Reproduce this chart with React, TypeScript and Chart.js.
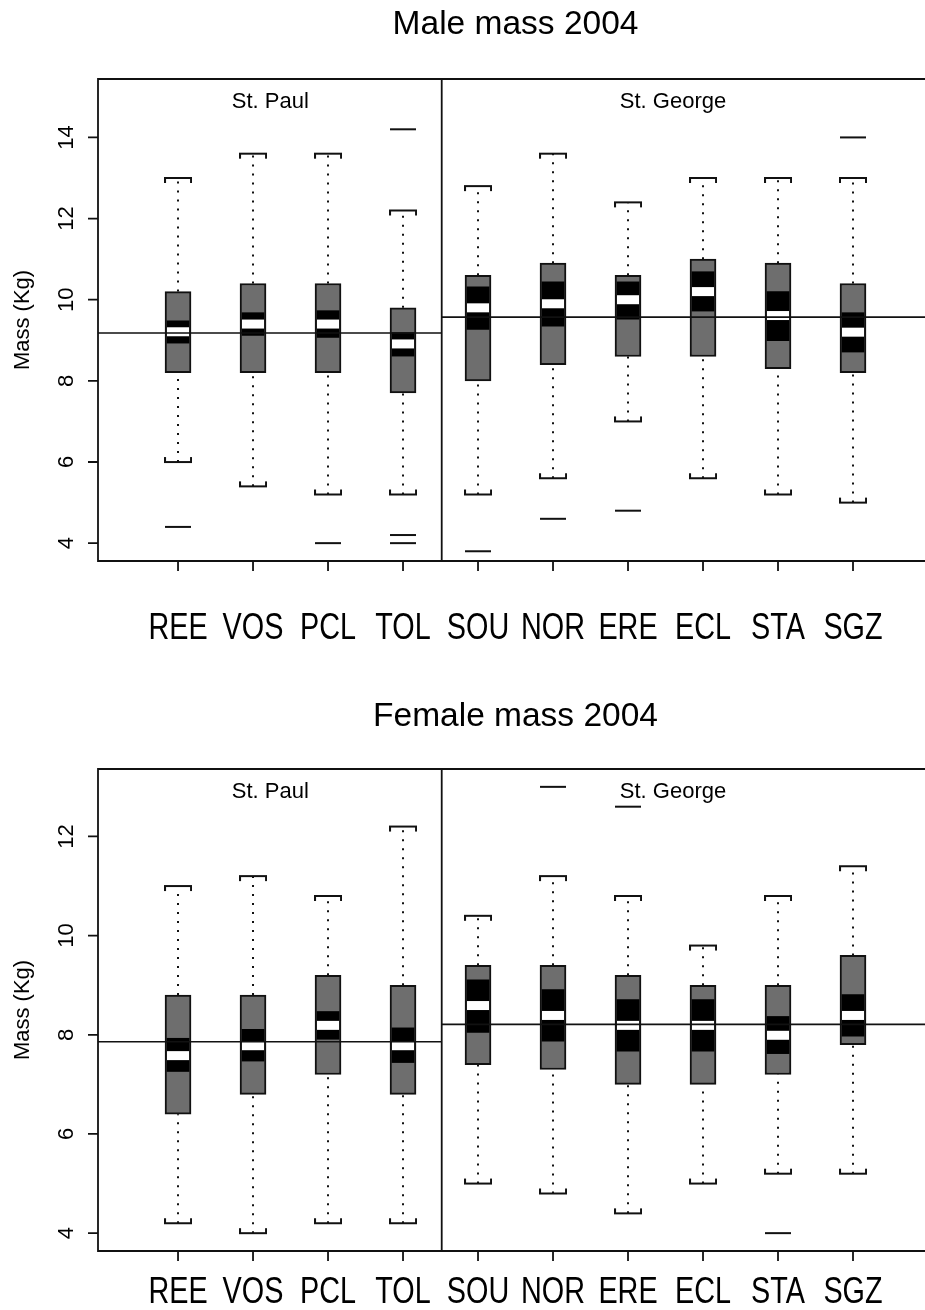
import React, { useEffect, useRef } from "react";
import { Chart, registerables } from "chart.js";

Chart.register(...registerables);

// ---------- data ----------
const SITES = ["REE", "VOS", "PCL", "TOL", "SOU", "NOR", "ERE", "ECL", "STA", "SGZ"];
const ISLANDS = ["St. Paul", "St. George"];
const ISLAND_LABEL_POS = [2.23, 7.6];
const ISLAND_SPLIT = 4.516;
const X_MIN = -0.067;
const X_MAX = 10.96;
const X_FRAME_END = 11.067;

const MALE_TITLE = "Male mass 2004";
const MALE_Y_TICKS = [4, 6, 8, 10, 12, 14];
const MALE_LOW_WHISKER = [6.0, 5.4, 5.2, 5.2, 5.2, 5.6, 7.0, 5.6, 5.2, 5.0];
const MALE_Q1 = [8.2, 8.2, 8.2, 7.7, 8.0, 8.4, 8.6, 8.6, 8.3, 8.2];
const MALE_NOTCH_LO = [8.93, 9.12, 9.07, 8.61, 9.27, 9.35, 9.52, 9.72, 8.99, 8.71];
const MALE_MEDIAN = [9.21, 9.4, 9.4, 8.91, 9.8, 9.9, 10.0, 10.2, 9.61, 9.2];
const MALE_NOTCH_HI = [9.48, 9.68, 9.73, 9.19, 10.32, 10.44, 10.44, 10.69, 10.2, 9.68];
const MALE_Q3 = [10.2, 10.4, 10.4, 9.8, 10.6, 10.9, 10.6, 11.0, 10.9, 10.4];
const MALE_HIGH_WHISKER = [13.0, 13.6, 13.6, 12.2, 12.8, 13.6, 12.4, 13.0, 13.0, 13.0];
const MALE_OUTLIERS = [[4.4], [], [4.0], [14.2, 4.2, 4.0], [3.8], [4.6], [4.8], [], [], [14.0]];
const MALE_ISLAND_MEAN = [9.18, 9.57];

const FEMALE_TITLE = "Female mass 2004";
const FEMALE_Y_TICKS = [4, 6, 8, 10, 12];
const FEMALE_LOW_WHISKER = [4.2, 4.0, 4.2, 4.2, 5.0, 4.8, 4.4, 5.0, 5.2, 5.2];
const FEMALE_Q1 = [6.4, 6.8, 7.2, 6.8, 7.4, 7.3, 7.0, 7.0, 7.2, 7.8];
const FEMALE_NOTCH_LO = [7.26, 7.47, 7.91, 7.44, 8.05, 7.87, 7.67, 7.67, 7.62, 7.97];
const FEMALE_MEDIAN = [7.58, 7.78, 8.19, 7.78, 8.59, 8.39, 8.19, 8.19, 7.99, 8.39];
const FEMALE_NOTCH_HI = [7.93, 8.11, 8.47, 8.14, 9.11, 8.91, 8.71, 8.71, 8.37, 8.81];
const FEMALE_Q3 = [8.8, 8.8, 9.2, 9.0, 9.4, 9.4, 9.2, 9.0, 9.0, 9.6];
const FEMALE_HIGH_WHISKER = [11.0, 11.2, 10.8, 12.2, 10.4, 11.2, 10.8, 9.8, 10.8, 11.4];
const FEMALE_OUTLIERS = [[], [], [], [], [], [13.0], [12.6], [], [4.0], []];
const FEMALE_ISLAND_MEAN = [7.86, 8.21];

const Y_LABEL = "Mass (Kg)";

// ---------- styles ----------
const FONT = '"Liberation Sans", Arial, Helvetica, sans-serif';
const INK = "#111111";
const BOX_GRAY = "#6e6e6e";

type Panel = {
  title: string;
  yTicks: number[];
  lo: number[];
  q1: number[];
  nlo: number[];
  med: number[];
  nhi: number[];
  q3: number[];
  hi: number[];
  out: number[][];
  means: number[];
  yMin: number;
  yMax: number;
  padTop: number;
  padBottom: number;
  titleBaseline: number;
  labelBaseline: number;
};

const MALE_PANEL: Panel = {
  title: MALE_TITLE,
  yTicks: MALE_Y_TICKS,
  lo: MALE_LOW_WHISKER,
  q1: MALE_Q1,
  nlo: MALE_NOTCH_LO,
  med: MALE_MEDIAN,
  nhi: MALE_NOTCH_HI,
  q3: MALE_Q3,
  hi: MALE_HIGH_WHISKER,
  out: MALE_OUTLIERS,
  means: MALE_ISLAND_MEAN,
  yMin: 3.56,
  yMax: 15.44,
  padTop: 79,
  padBottom: 94,
  titleBaseline: 34,
  labelBaseline: 639,
};

const FEMALE_PANEL: Panel = {
  title: FEMALE_TITLE,
  yTicks: FEMALE_Y_TICKS,
  lo: FEMALE_LOW_WHISKER,
  q1: FEMALE_Q1,
  nlo: FEMALE_NOTCH_LO,
  med: FEMALE_MEDIAN,
  nhi: FEMALE_NOTCH_HI,
  q3: FEMALE_Q3,
  hi: FEMALE_HIGH_WHISKER,
  out: FEMALE_OUTLIERS,
  means: FEMALE_ISLAND_MEAN,
  yMin: 3.64,
  yMax: 13.36,
  padTop: 114,
  padBottom: 59,
  titleBaseline: 71,
  labelBaseline: 648,
};

const CANVAS_W = 925;
const CANVAS_H = 655;

function capImage(up: boolean): HTMLCanvasElement {
  const c = document.createElement("canvas");
  c.width = 28;
  c.height = 14;
  const g = c.getContext("2d")!;
  g.strokeStyle = INK;
  g.lineWidth = 2;
  const yLine = 7;
  const yEnd = up ? 12 : 2;
  g.beginPath();
  g.moveTo(1, yEnd);
  g.lineTo(1, yLine);
  g.lineTo(27, yLine);
  g.lineTo(27, yEnd);
  g.stroke();
  return c;
}

function buildDatasets(p: Panel): any[] {
  const pos = SITES.map((_, i) => i + 1);
  const whiskers: any[] = [];
  pos.forEach((x, i) => {
    whiskers.push({ x, y: p.q3[i] }, { x, y: p.hi[i] }, { x, y: null });
    whiskers.push({ x, y: p.lo[i] }, { x, y: p.q1[i] }, { x, y: null });
  });
  const outliers: any[] = [];
  p.out.forEach((arr, i) => arr.forEach((v) => outliers.push({ x: pos[i], y: v })));
  return [
    {
      type: "line",
      label: "whiskers",
      data: whiskers,
      borderColor: INK,
      borderWidth: 2,
      borderDash: [2, 7],
      pointRadius: 0,
      spanGaps: false,
      fill: false,
      order: 11,
    },
    {
      type: "bar",
      label: "box",
      data: pos.map((x, i) => ({ x, y: [p.q1[i], p.q3[i]] })),
      backgroundColor: BOX_GRAY,
      borderColor: INK,
      borderWidth: 2,
      borderSkipped: false,
      barThickness: 26,
      grouped: false,
      order: 10,
    },
    {
      type: "scatter",
      label: "upper cap",
      data: pos.map((x, i) => ({ x, y: p.hi[i] })),
      pointStyle: capImage(true),
      pointRadius: 13,
      order: 9,
    },
    {
      type: "scatter",
      label: "lower cap",
      data: pos.map((x, i) => ({ x, y: p.lo[i] })),
      pointStyle: capImage(false),
      pointRadius: 13,
      order: 9,
    },
    {
      type: "bar",
      label: "notch",
      data: pos.map((x, i) => ({ x, y: [p.nlo[i], p.nhi[i]] })),
      backgroundColor: "#000000",
      borderWidth: 0,
      barThickness: 22,
      grouped: false,
      order: 8,
    },
    {
      type: "scatter",
      label: "median",
      data: pos.map((x, i) => ({ x, y: p.med[i] })),
      pointStyle: "line",
      pointRadius: 11,
      pointBorderWidth: 9,
      pointBorderColor: "#ffffff",
      pointBackgroundColor: "#ffffff",
      order: 7,
    },
    {
      type: "scatter",
      label: "outliers",
      data: outliers,
      pointStyle: "line",
      pointRadius: 13,
      pointBorderWidth: 2,
      pointBorderColor: INK,
      order: 6,
    },
    {
      type: "line",
      label: "island mean",
      data: [
        { x: X_MIN, y: p.means[0] },
        { x: ISLAND_SPLIT, y: p.means[0] },
        { x: ISLAND_SPLIT, y: null },
        { x: ISLAND_SPLIT, y: p.means[1] },
        { x: X_FRAME_END, y: p.means[1] },
      ],
      borderColor: INK,
      borderWidth: 1.6,
      pointRadius: 0,
      spanGaps: false,
      fill: false,
      order: 1,
    },
  ];
}

function decorPlugin(p: Panel) {
  return {
    id: "decor",
    afterDatasetsDraw(chart: any) {
      const { ctx, chartArea: a, scales } = chart;
      const x = scales.x;
      const y = scales.y;
      ctx.save();
      ctx.strokeStyle = INK;
      ctx.lineWidth = 1.8;
      const right = x.getPixelForValue(X_FRAME_END);
      // frame
      ctx.beginPath();
      ctx.moveTo(right, a.top);
      ctx.lineTo(a.left, a.top);
      ctx.lineTo(a.left, a.bottom);
      ctx.lineTo(right, a.bottom);
      ctx.stroke();
      // island divider
      const xd = x.getPixelForValue(ISLAND_SPLIT);
      ctx.beginPath();
      ctx.moveTo(xd, a.top);
      ctx.lineTo(xd, a.bottom);
      ctx.stroke();
      // y ticks
      ctx.beginPath();
      p.yTicks.forEach((t) => {
        const py = y.getPixelForValue(t);
        ctx.moveTo(a.left - 10, py);
        ctx.lineTo(a.left, py);
      });
      // x ticks
      SITES.forEach((_, i) => {
        const px = x.getPixelForValue(i + 1);
        ctx.moveTo(px, a.bottom);
        ctx.lineTo(px, a.bottom + 10);
      });
      ctx.stroke();

      ctx.fillStyle = "#000";
      // title
      ctx.font = `33.5px ${FONT}`;
      ctx.textAlign = "center";
      ctx.textBaseline = "alphabetic";
      ctx.fillText(p.title, x.getPixelForValue((X_MIN + X_FRAME_END) / 2), p.titleBaseline);
      // island labels
      ctx.font = `22px ${FONT}`;
      ISLANDS.forEach((lab, i) => {
        ctx.fillText(lab, x.getPixelForValue(ISLAND_LABEL_POS[i]), a.top + 29);
      });
      // x labels (slightly condensed)
      ctx.font = `36px ${FONT}`;
      SITES.forEach((lab, i) => {
        ctx.save();
        ctx.translate(x.getPixelForValue(i + 1), p.labelBaseline);
        ctx.scale(0.8, 1);
        ctx.fillText(lab, 0, 0);
        ctx.restore();
      });
      // y tick labels (rotated)
      ctx.font = `22px ${FONT}`;
      ctx.textBaseline = "middle";
      p.yTicks.forEach((t) => {
        ctx.save();
        ctx.translate(67, y.getPixelForValue(t));
        ctx.rotate(-Math.PI / 2);
        ctx.fillText(String(t), 0, 0);
        ctx.restore();
      });
      // y axis title
      ctx.font = `22px ${FONT}`;
      ctx.save();
      ctx.translate(23, (a.top + a.bottom) / 2);
      ctx.rotate(-Math.PI / 2);
      ctx.fillText(Y_LABEL, 0, 0);
      ctx.restore();
      ctx.restore();
    },
  };
}

function BoxPanel({ panel, top }: { panel: Panel; top: number }) {
  const ref = useRef<HTMLCanvasElement>(null);
  useEffect(() => {
    const canvas = ref.current!;
    const chart = new Chart(canvas, {
      type: "bar",
      data: { datasets: buildDatasets(panel) },
      options: {
        responsive: false,
        animation: false,
        devicePixelRatio: 1,
        events: [],
        layout: {
          autoPadding: false,
          padding: { left: 98, right: 0, top: panel.padTop, bottom: panel.padBottom },
        },
        plugins: {
          legend: { display: false },
          tooltip: { enabled: false },
          title: { display: false },
        },
        scales: {
          x: { type: "linear", min: X_MIN, max: X_MAX, offset: false, display: false },
          y: { type: "linear", min: panel.yMin, max: panel.yMax, display: false },
        },
      } as any,
      plugins: [decorPlugin(panel)],
    } as any);
    return () => chart.destroy();
  }, [panel]);
  return (
    <canvas
      ref={ref}
      width={CANVAS_W}
      height={CANVAS_H}
      style={{ position: "absolute", left: 0, top, width: CANVAS_W, height: CANVAS_H, display: "block" }}
    />
  );
}

export default function App() {
  return (
    <div style={{ position: "absolute", left: 0, top: 0, width: 925, height: 1310, background: "#fff", overflow: "hidden" }}>
      <BoxPanel panel={MALE_PANEL} top={0} />
      <BoxPanel panel={FEMALE_PANEL} top={655} />
    </div>
  );
}
